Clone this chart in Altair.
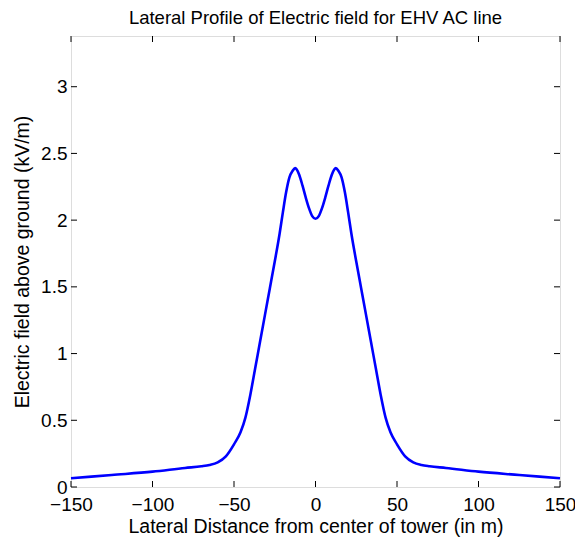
import altair as alt
import pandas as pd

# Half profile (symmetric about x = 0)
half_x = [0, 2, 4, 6, 8, 10, 11.5, 12.5, 14, 16, 18, 20, 22, 25, 28, 31, 34, 37,
          40, 43, 46, 50, 55, 60, 65, 70, 80, 100, 125, 150]
half_y = [2.01, 2.03, 2.09, 2.17, 2.26, 2.34, 2.38, 2.39, 2.37, 2.32, 2.21, 2.06, 1.90, 1.69, 1.49, 1.29, 1.09, 0.89,
          0.69, 0.52, 0.41, 0.32, 0.23, 0.185, 0.165, 0.155, 0.143, 0.115, 0.09, 0.065]

x_vals = [-v for v in reversed(half_x[1:])] + half_x
y_vals = list(reversed(half_y[1:])) + half_y

x_ticks = [-150, -100, -50, 0, 50, 100, 150]
y_ticks = [0, 0.5, 1, 1.5, 2, 2.5, 3]

df = pd.DataFrame({"x": x_vals, "y": y_vals})
xt = pd.DataFrame({"x": x_ticks})
yt = pd.DataFrame({"y": y_ticks})

W, H = 489, 451
FONT = "Liberation Sans"

xscale = alt.Scale(domain=[-150, 150], nice=False, zero=False)
yscale = alt.Scale(domain=[0, 3.38], nice=False, zero=False)

line = alt.Chart(df).mark_line(color="#0000FF", strokeWidth=2.6, interpolate="monotone").encode(
    x=alt.X("x:Q", scale=xscale,
            axis=alt.Axis(values=x_ticks, title="Lateral Distance from center of tower (in m)",
                          ticks=False, domain=False, grid=False, labelPadding=8,
                          labelFontSize=19, titleFontSize=19.5, labelFont=FONT, titleFont=FONT,
                          labelColor="black", titleColor="black", titleFontWeight="normal",
                          titlePadding=3, labelFlush=False, labelOverlap=False)),
    y=alt.Y("y:Q", scale=yscale,
            axis=alt.Axis(values=y_ticks, title="Electric field above ground (kV/m)",
                          ticks=False, domain=False, grid=False, labelPadding=4,
                          labelFontSize=19, titleFontSize=19.5, labelFont=FONT, titleFont=FONT,
                          labelColor="black", titleColor="black", titleFontWeight="normal",
                          titlePadding=8, labelFlush=False, labelOverlap=False,
                          format="~g")),
)

TL = 6
bottom_ticks = alt.Chart(xt).mark_rule(color="black", strokeWidth=1).encode(
    x=alt.X("x:Q", scale=xscale), y=alt.value(H), y2=alt.value(H - TL))
top_ticks = alt.Chart(xt).mark_rule(color="black", strokeWidth=1).encode(
    x=alt.X("x:Q", scale=xscale), y=alt.value(0), y2=alt.value(TL))
left_ticks = alt.Chart(yt).mark_rule(color="black", strokeWidth=1).encode(
    y=alt.Y("y:Q", scale=yscale), x=alt.value(0), x2=alt.value(TL))
right_ticks = alt.Chart(yt).mark_rule(color="black", strokeWidth=1).encode(
    y=alt.Y("y:Q", scale=yscale), x=alt.value(W), x2=alt.value(W - TL))

chart = alt.layer(line, bottom_ticks, top_ticks, left_ticks, right_ticks).properties(
    width=W, height=H,
    title=alt.TitleParams("Lateral Profile of Electric field for EHV AC line",
                          fontSize=18.5, font=FONT, fontWeight="normal", color="black",
                          anchor="middle", offset=8),
    autosize=alt.AutoSizeParams(type="none"),
    padding={"left": 63, "top": 28, "right": 15, "bottom": 50},
).configure_view(stroke="black", strokeWidth=1).configure(background="white")

chart.save("out.html", embed_options={"renderer": "svg", "actions": False})
